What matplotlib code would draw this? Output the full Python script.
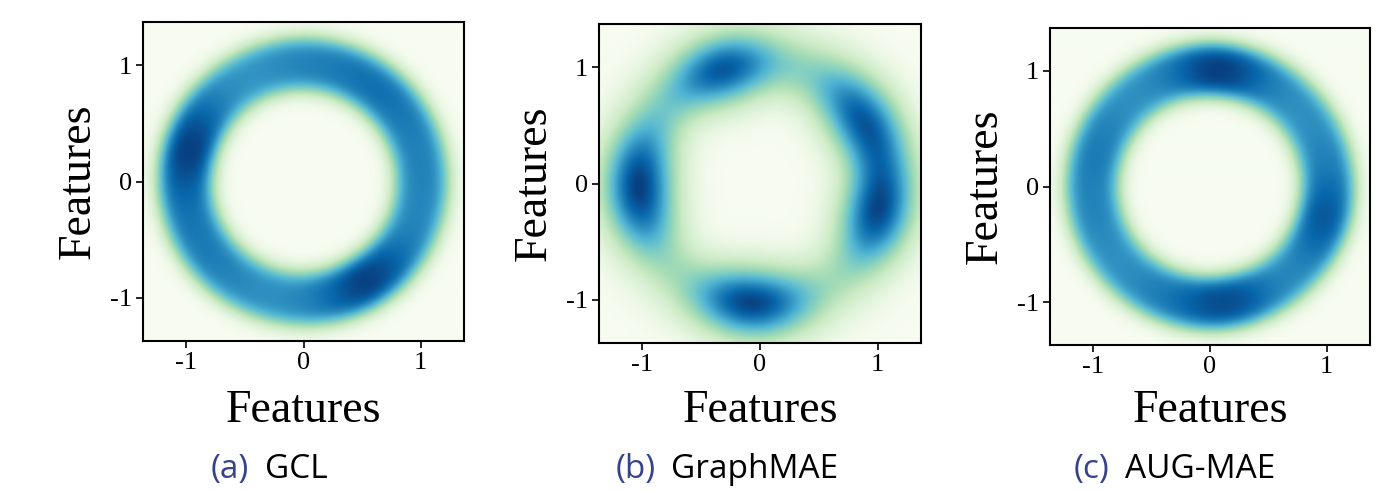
import math
import numpy as np
import matplotlib
matplotlib.use("Agg")
import matplotlib.pyplot as plt

# ---------------- data ----------------
titles = ["GCL", "GraphMAE", "AUG-MAE"]
letters = ["(a)", "(b)", "(c)"]
tick_values = [-1, 0, 1]
tick_labels = ["-1", "0", "1"]
axis_label = "Features"

# anchor angles (degrees) around the ring, and the relative density read at each
angles_deg = [0, 15, 30, 45, 60, 75, 90, 105, 120, 135, 150, 165,
              180, 195, 210, 225, 240, 255, 270, 285, 300, 315, 330, 345]
gcl_weights = [0.74, 0.74, 0.76, 0.80, 0.80, 0.76, 0.74, 0.70, 0.67, 0.72, 0.88, 1.00,
               0.86, 0.78, 0.77, 0.75, 0.71, 0.69, 0.72, 0.82, 1.00, 0.88, 0.74, 0.72]
graphmae_weights = [0.60, 0.58, 0.85, 0.62, 0.32, 0.25, 0.42, 0.95, 0.62, 0.28, 0.32, 0.65,
                    0.88, 0.75, 0.32, 0.18, 0.30, 0.78, 0.90, 0.52, 0.20, 0.22, 0.48, 1.00]
augmae_weights = [0.80, 0.74, 0.70, 0.69, 0.74, 0.92, 1.00, 0.80, 0.70, 0.69, 0.74, 0.78,
                  0.74, 0.74, 0.70, 0.69, 0.74, 0.80, 0.92, 0.92, 0.74, 0.70, 0.80, 0.92]
# radial extent of the ring (inner, outer) for each panel
ring_inner = [0.78, 1.03, 0.78]
ring_outer = [1.24, 1.03, 1.24]
panel_weights = [gcl_weights, graphmae_weights, augmae_weights]

# smoothing (style)
radial_sigma = [0.08, 0.22, 0.08]
angular_sigma_deg = [10, 14, 10]

# ---------------- layout ----------------
W, H = 1376, 490
fig = plt.figure(figsize=(W / 100, H / 100), dpi=100)


def fx(px):
    return px / W


def fy(py):
    return 1 - py / H


axes_px = [(143, 22, 464, 341), (599, 24, 921, 343), (1050, 28, 1370, 345)]
cap_split = [(249, 265), (656, 671), (1109, 1125)]
lim = 1.37

serif = "Liberation Serif"
sans = "Open Sans"
grid = np.linspace(-lim, lim, 400)
X, Y = np.meshgrid(grid, grid)
R = np.hypot(X, Y)
TH = np.arctan2(Y, X)
erf = np.vectorize(math.erf)


def Phi(z):
    return 0.5 * (1 + erf(z / math.sqrt(2)))


for i in range(3):
    l, t, r, b = axes_px[i]
    ax = fig.add_axes([fx(l), fy(b), fx(r) - fx(l), fy(t) - fy(b)])

    a_in, a_out, sr = ring_inner[i], ring_outer[i], radial_sigma[i]
    if a_out - a_in < 1e-6:
        radial = np.exp(-((R - a_in) ** 2) / (2 * sr * sr))
    else:
        radial = Phi((R - a_in) / sr) - Phi((R - a_out) / sr)

    st = np.deg2rad(angular_sigma_deg[i])
    ang = np.zeros_like(R)
    for a_deg, wk in zip(angles_deg, panel_weights[i]):
        d = np.angle(np.exp(1j * (TH - np.deg2rad(a_deg))))
        ang += wk * np.exp(-d ** 2 / (2 * st * st))
    D = radial * ang
    D /= D.max()

    ax.imshow(D, extent=[-lim, lim, -lim, lim], origin="lower", cmap="GnBu",
              vmin=0, vmax=1, interpolation="bilinear", aspect="auto")
    ax.set_xlim(-lim, lim)
    ax.set_ylim(-lim, lim)
    ax.set_xticks(tick_values)
    ax.set_yticks(tick_values)
    ax.set_xticklabels(tick_labels, family=serif, fontsize=19)
    ax.set_yticklabels(tick_labels, family=serif, fontsize=19)
    ax.tick_params(length=5, width=1.2, pad=3, color="black")
    for sp in ax.spines.values():
        sp.set_linewidth(1.5)

    cx = (l + r) / 2
    cy = (t + b) / 2
    fig.text(fx(cx), fy(422), axis_label, family=serif, fontsize=33,
             ha="center", va="baseline")
    fig.text(fx(l - 43), fy(cy), axis_label, family=serif, fontsize=33,
             ha="right", va="center", rotation=90)

    a_end, t_start = cap_split[i]
    fig.text(fx(a_end), fy(478), letters[i], family=sans, fontsize=24,
             color="#34438a", ha="right", va="baseline")
    fig.text(fx(t_start), fy(478), titles[i], family=sans, fontsize=24,
             color="black", ha="left", va="baseline")

fig.savefig("out.png", dpi=100)
